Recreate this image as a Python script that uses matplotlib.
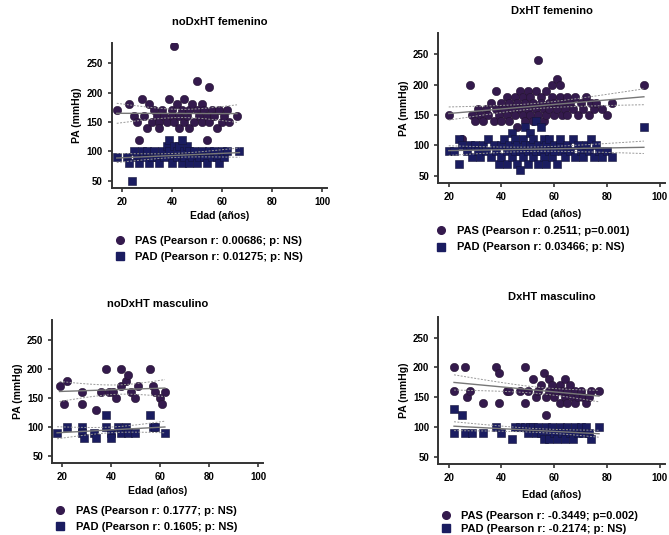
import numpy as np
import matplotlib
matplotlib.use("Agg")
import matplotlib.pyplot as plt
from matplotlib.lines import Line2D

plt.rcParams['font.family'] = ['Liberation Sans', 'DejaVu Sans']

# ---- data (age, mmHg) ----
# noDxHT femenino
p1_pas_age = [18, 23, 25, 26, 28, 29, 30, 31, 32, 33, 34, 35, 36, 37, 38, 39, 40, 40, 41, 41, 42, 43, 43, 44, 45, 45,
              46, 47, 47, 48, 49, 50, 50, 51, 52, 52, 53, 54, 54, 55, 55, 56, 57, 58, 59, 60, 61, 62, 63, 66, 27, 35]
p1_pas_val = [170, 180, 160, 150, 190, 160, 140, 180, 150, 170, 160, 150, 170, 160, 150, 190, 170, 160, 280, 150, 180,
              160, 140, 170, 190, 150, 160, 170, 140, 180, 150, 220, 170, 160, 180, 150, 170, 120, 160, 210, 150, 170,
              160, 140, 170, 150, 160, 170, 150, 160, 120, 140]
p1_pad_age = [18, 22, 23, 24, 25, 26, 27, 28, 29, 30, 31, 32, 33, 34, 35, 36, 37, 38, 39, 39, 40, 40, 41, 42, 42, 43,
              44, 45, 45, 46, 47, 47, 48, 49, 50, 51, 52, 53, 54, 55, 56, 57, 58, 59, 60, 61, 62, 67, 44]
p1_pad_val = [90, 90, 80, 50, 100, 90, 80, 100, 90, 100, 80, 90, 100, 90, 80, 100, 90, 110, 120, 100, 90, 80, 110, 100,
              90, 110, 80, 100, 90, 110, 80, 100, 90, 100, 80, 90, 100, 90, 80, 100, 90, 100, 90, 80, 100, 90, 100, 100,
              120]

# DxHT femenino
p2_pas_age = [20, 25, 28, 29, 30, 31, 32, 33, 34, 35, 36, 37, 38, 38, 39, 40, 40, 41, 42, 42, 43, 43, 44, 45, 45, 46,
              46, 47, 47, 48, 48, 49, 49, 50, 50, 51, 51, 52, 52, 53, 53, 54, 54, 55, 55, 56, 56, 57, 57, 58, 58, 59,
              59, 60, 60, 61, 61, 62, 62, 63, 63, 64, 65, 65, 66, 67, 68, 69, 70, 71, 72, 73, 74, 75, 76, 78, 80, 82, 94]
p2_pas_val = [150, 110, 200, 150, 140, 160, 150, 140, 160, 150, 170, 140, 190, 160, 150, 170, 140, 160, 180, 150, 170,
              140, 160, 180, 150, 170, 130, 160, 190, 150, 180, 170, 140, 160, 190, 150, 180, 170, 140, 160, 190, 240,
              150, 180, 170, 160, 140, 190, 150, 170, 160, 200, 180, 150, 170, 210, 160, 200, 180, 150, 170, 160, 180,
              150, 170, 160, 180, 150, 170, 160, 180, 150, 170, 160, 170, 160, 150, 170, 200]
p2_pad_age = [20, 22, 24, 24, 25, 27, 28, 29, 30, 31, 32, 33, 34, 35, 36, 37, 38, 39, 40, 40, 41, 42, 42, 43, 44, 44,
              45, 45, 46, 46, 47, 47, 48, 48, 49, 49, 50, 50, 51, 51, 52, 52, 53, 53, 54, 54, 55, 55, 56, 56, 57, 57,
              58, 58, 59, 60, 60, 61, 62, 62, 63, 64, 65, 66, 67, 68, 69, 70, 71, 72, 73, 74, 75, 76, 77, 78, 80, 82, 94]
p2_pad_val = [90, 90, 70, 110, 100, 90, 100, 80, 100, 90, 80, 100, 90, 110, 80, 100, 90, 70, 100, 80, 110, 90, 70, 100,
              80, 120, 90, 110, 70, 100, 90, 60, 110, 80, 100, 130, 90, 70, 100, 120, 80, 110, 90, 140, 100, 70, 130,
              90, 110, 80, 100, 70, 90, 110, 80, 100, 90, 70, 100, 110, 90, 80, 100, 90, 110, 80, 100, 90, 80, 100, 90,
              110, 80, 100, 90, 80, 90, 80, 130]

# noDxHT masculino
p3_pas_age = [19, 21, 22, 28, 28, 34, 36, 38, 39, 41, 42, 44, 44, 46, 47, 48, 50, 51, 56, 57, 58, 60, 61, 62]
p3_pas_val = [170, 140, 180, 160, 140, 130, 160, 200, 160, 160, 150, 200, 170, 180, 190, 160, 150, 170, 200, 170, 160,
              150, 140, 160]
p3_pad_age = [18, 22, 28, 28, 29, 33, 34, 38, 38, 40, 40, 43, 44, 46, 47, 50, 56, 57, 58, 62]
p3_pad_val = [90, 100, 100, 90, 80, 90, 80, 120, 100, 90, 80, 100, 90, 100, 90, 90, 120, 100, 100, 90]

# DxHT masculino
p4_pas_age = [22, 22, 26, 27, 28, 33, 38, 39, 39, 42, 43, 47, 49, 49, 50, 52, 53, 54, 55, 56, 57, 57, 58, 58, 59, 60,
              61, 62, 62, 63, 64, 64, 65, 65, 66, 67, 68, 68, 69, 70, 71, 72, 73, 74, 77]
p4_pas_val = [200, 160, 200, 150, 160, 140, 200, 190, 140, 160, 160, 160, 200, 140, 160, 180, 150, 160, 170, 190, 120,
              150, 180, 160, 170, 150, 160, 140, 170, 160, 180, 150, 140, 160, 170, 150, 140, 160, 150, 160, 150, 140,
              150, 160, 160]
p4_pad_age = [22, 22, 25, 26, 29, 33, 38, 40, 44, 45, 47, 49, 50, 51, 52, 53, 54, 55, 56, 57, 58, 58, 59, 60, 61, 62,
              63, 64, 65, 66, 67, 68, 69, 70, 71, 72, 73, 74, 77]
p4_pad_val = [90, 130, 120, 90, 90, 90, 100, 90, 80, 100, 100, 100, 90, 100, 100, 90, 100, 90, 80, 100, 90, 80, 100,
              90, 80, 100, 90, 80, 100, 90, 80, 100, 90, 100, 90, 100, 90, 80, 100]

titles = ['noDxHT femenino', 'DxHT femenino', 'noDxHT masculino', 'DxHT masculino']
pas_labels = ['PAS (Pearson r: 0.00686; p: NS)', 'PAS (Pearson r: 0.2511; p=0.001)',
              'PAS (Pearson r: 0.1777; p: NS)', 'PAS (Pearson r: -0.3449; p=0.002)']
pad_labels = ['PAD (Pearson r: 0.01275; p: NS)', 'PAD (Pearson r: 0.03466; p: NS)',
              'PAD (Pearson r: 0.1605; p: NS)', 'PAD (Pearson r: -0.2174; p: NS)']

PAS_COLOR = '#341a4d'
PAD_COLOR = '#1a1c60'

fig = plt.figure(figsize=(6.69, 5.35), dpi=100)

# [left, bottom, width, height]
boxes = [[0.167, 0.649, 0.322, 0.271],
         [0.655, 0.658, 0.339, 0.280],
         [0.078, 0.135, 0.315, 0.267],
         [0.655, 0.133, 0.339, 0.275]]
legend_y = [-0.30, -0.26, -0.27, -0.29]
legend_x = [-0.01, -0.03, -0.01, -0.01]
legend_gap = [0.55, 0.55, 0.55, 0.25]
xlabel_pad = [3, 5, 3, 5]
title_pad = [13, 14, 9, 12]


def fit_line(ax, x, y):
    x = np.asarray(x, float)
    y = np.asarray(y, float)
    b, a = np.polyfit(x, y, 1)
    xs = np.linspace(x.min(), x.max(), 50)
    ys = a + b * xs
    resid = y - (a + b * x)
    s = np.sqrt(np.sum(resid ** 2) / (len(x) - 2))
    se = s * np.sqrt(1 / len(x) + (xs - x.mean()) ** 2 / np.sum((x - x.mean()) ** 2))
    ax.plot(xs, ys, color='#777777', lw=1.0, zorder=3)
    ax.plot(xs, ys + 2 * se, color='#999999', lw=0.7, ls=(0, (2, 1.5)), zorder=3)
    ax.plot(xs, ys - 2 * se, color='#999999', lw=0.7, ls=(0, (2, 1.5)), zorder=3)


data = [(p1_pas_age, p1_pas_val, p1_pad_age, p1_pad_val),
        (p2_pas_age, p2_pas_val, p2_pad_age, p2_pad_val),
        (p3_pas_age, p3_pas_val, p3_pad_age, p3_pad_val),
        (p4_pas_age, p4_pas_val, p4_pad_age, p4_pad_val)]

for i, (pas_x, pas_y, pad_x, pad_y) in enumerate(data):
    ax = fig.add_axes(boxes[i])
    ax.scatter(pas_x, pas_y, marker='o', s=36, color=PAS_COLOR, edgecolors='#24142f', linewidths=0.4, zorder=2)
    ax.scatter(pad_x, pad_y, marker='s', s=32, color=PAD_COLOR, edgecolors='#14143a', linewidths=0.4, zorder=2)
    fit_line(ax, pas_x, pas_y)
    fit_line(ax, pad_x, pad_y)

    ax.set_xlim(16, 102)
    ax.set_ylim(38, 285)
    ax.set_xticks([20, 40, 60, 80, 100])
    ax.set_yticks([50, 100, 150, 200, 250])
    for side in ['top', 'right']:
        ax.spines[side].set_visible(False)
    for side in ['left', 'bottom']:
        ax.spines[side].set_linewidth(1.4)
        ax.spines[side].set_color('#333333')
    ax.tick_params(labelsize=7, width=1.2, length=3, color='#333333')
    for lab in ax.get_xticklabels() + ax.get_yticklabels():
        lab.set_fontweight('bold')
    ax.set_title(titles[i], fontsize=8, fontweight='bold', pad=title_pad[i])
    ax.set_xlabel('Edad (años)', fontsize=7.5, fontweight='bold', labelpad=xlabel_pad[i])
    ax.set_ylabel('PA (mmHg)', fontsize=7.5, fontweight='bold', labelpad=3)

    handles = [Line2D([], [], marker='o', ls='', color=PAS_COLOR, markersize=5.5),
               Line2D([], [], marker='s', ls='', color=PAD_COLOR, markersize=5.5)]
    ax.legend(handles, [pas_labels[i], pad_labels[i]], loc='upper left',
              bbox_to_anchor=(legend_x[i], legend_y[i]),
              frameon=False, prop={'weight': 'bold', 'size': 8}, handletextpad=0.9,
              labelspacing=legend_gap[i], handlelength=1.0, borderaxespad=0)

fig.savefig('out.png', dpi=100)
